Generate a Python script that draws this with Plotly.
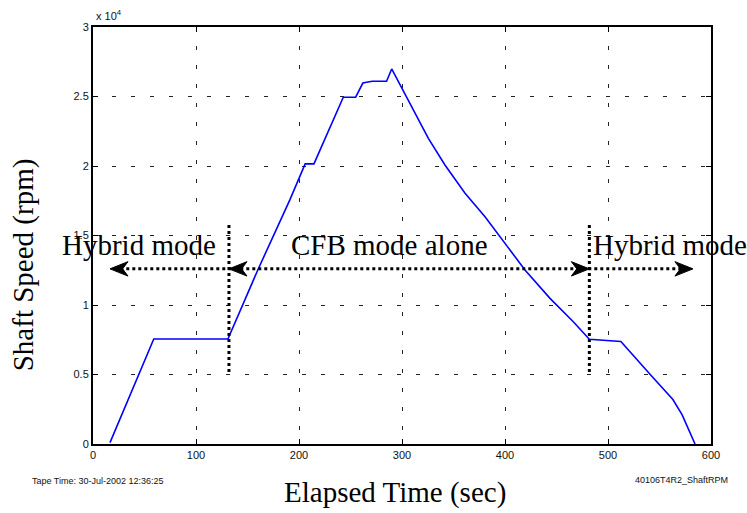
import plotly.graph_objects as go

# ---- data ----
time_s = [16.5, 59, 131, 160, 191, 206, 214.5, 243, 255, 262, 271, 285, 290,
          302.7, 315.8, 325.6, 341.7, 361.2, 380.6, 400, 419.4, 443.7, 466.3,
          481.9, 512.5, 541, 563, 572, 584.5]
speed_rpm = [100, 7550, 7550, 12520, 17550, 20150, 20150, 24950, 24950, 25970,
             26100, 26100, 26980, 25230, 23430, 21990, 20070, 18040, 16350,
             14440, 12520, 10480, 8800, 7530, 7380, 5000, 3200, 2100, 0]

x_ticks = [0, 100, 200, 300, 400, 500, 600]
y_tickvals = [0, 5000, 10000, 15000, 20000, 25000, 30000]
y_ticktext = ["0", "0.5", "1", "1.5", "2", "2.5", "3"]

# mode annotations (anchor time, anchor side)
mode_labels = ["Hybrid mode", "CFB mode alone", "Hybrid mode"]
mode_label_x = [120.5, 191, 484.5]
mode_label_anchor = ["right", "left", "left"]
mode_label_y = 14350
mode_bounds = [132, 481.9]          # vertical dotted separators
sep_y_range = [5180, 15760]
arrow_y = 12600
arrow_tips_left = [16.5, 132]       # tips of left-pointing heads
arrow_tips_right = [481.9, 582.5]   # tips of right-pointing heads

serif = "Liberation Serif"
sans = "Liberation Sans"

fig = go.Figure()
fig.add_trace(go.Scatter(x=time_s, y=speed_rpm, mode="lines",
                         line=dict(color="#0000FF", width=1.6),
                         showlegend=False, hoverinfo="skip"))

shapes = []
# dotted horizontal arrow shaft
shapes.append(dict(type="line", xref="x", yref="y",
                   x0=arrow_tips_left[0] + 10, x1=arrow_tips_right[1] - 10,
                   y0=arrow_y, y1=arrow_y,
                   line=dict(color="black", width=3, dash="dot")))
# vertical separators
for b in mode_bounds:
    shapes.append(dict(type="line", xref="x", yref="y", x0=b, x1=b,
                       y0=sep_y_range[0], y1=sep_y_range[1],
                       line=dict(color="black", width=3, dash="dot")))

L = 17.5   # head length (s)
H = 520    # half head height (rpm)
def head(tip, direction):
    d = direction
    bx = tip - d * L
    nx = tip - d * L * 0.7
    return (f"M {tip},{arrow_y} L {bx},{arrow_y + H} L {nx},{arrow_y} "
            f"L {bx},{arrow_y - H} Z")

for t in arrow_tips_left:
    shapes.append(dict(type="path", xref="x", yref="y", path=head(t, -1),
                       fillcolor="black", line=dict(color="black", width=1)))
for t in arrow_tips_right:
    shapes.append(dict(type="path", xref="x", yref="y", path=head(t, 1),
                       fillcolor="black", line=dict(color="black", width=1)))

annotations = []
for lab, xx, anc in zip(mode_labels, mode_label_x, mode_label_anchor):
    annotations.append(dict(text=lab, x=xx, y=mode_label_y, xref="x", yref="y",
                            xanchor=anc, yanchor="middle", showarrow=False,
                            borderpad=0,
                            font=dict(family=serif, size=29, color="black")))

annotations += [
    dict(text="Shaft Speed (rpm)", textangle=-90, x=-0.113, y=0.429,
         xref="paper", yref="paper", xanchor="center", yanchor="middle",
         showarrow=False, font=dict(family=serif, size=29, color="black")),
    dict(text="Elapsed Time (sec)", x=0.489, y=-0.1175, xref="paper",
         yref="paper", xanchor="center", yanchor="middle", showarrow=False,
         font=dict(family=serif, size=29, color="black")),
    dict(text="Tape Time: 30-Jul-2002 12:36:25", x=-0.102, y=-0.0887,
         xref="paper", yref="paper", xanchor="left", yanchor="middle",
         showarrow=False, font=dict(family=sans, size=9, color="#111")),
    dict(text="40106T4R2_ShaftRPM", x=1.031, y=-0.0863, xref="paper",
         yref="paper", xanchor="right", yanchor="middle", showarrow=False,
         font=dict(family=sans, size=9, color="#111")),
    dict(text="x 10<sup>4</sup>", x=0.0016, y=1.029, xref="paper",
         yref="paper", xanchor="left", yanchor="middle", showarrow=False,
         font=dict(family=sans, size=11, color="#111")),
]

axis_common = dict(showline=True, linecolor="black", linewidth=2,
                   mirror="ticks", ticks="inside", ticklen=5,
                   tickcolor="black", showgrid=True, gridcolor="#222",
                   gridwidth=1, griddash="4px,15px", zeroline=False,
                   tickfont=dict(family=sans, size=11, color="#111"))

fig.update_layout(
    width=747, height=513,
    margin=dict(l=93, r=36, t=27, b=69),
    paper_bgcolor="white", plot_bgcolor="white",
    xaxis=dict(range=[0, 600], tickvals=x_ticks, **axis_common),
    yaxis=dict(range=[0, 30000], tickvals=y_tickvals, ticktext=y_ticktext,
               **axis_common),
    shapes=shapes, annotations=annotations,
)

fig.write_html("out.html")
